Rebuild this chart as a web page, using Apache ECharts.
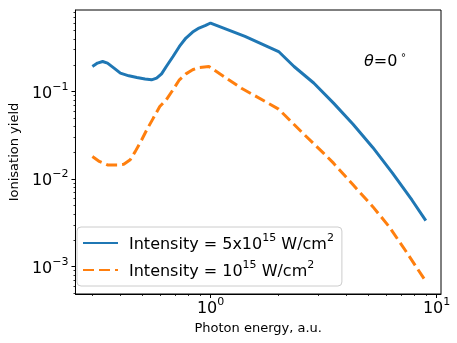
<!DOCTYPE html>
<html>
<head>
<meta charset="utf-8">
<script src="https://cdn.jsdelivr.net/npm/echarts@6/dist/echarts.min.js"></script>
<style>html,body{margin:0;padding:0;background:#fff}#c{width:457px;height:343px}</style>
</head>
<body>
<div id="c"></div>
<script>
// ---- data ----
const energyHigh = [0.30, 0.316, 0.333, 0.35, 0.374, 0.399, 0.435, 0.472, 0.513, 0.548, 0.577, 0.607, 0.637, 0.682, 0.728, 0.778, 0.833, 0.889, 0.951, 1.0, 1.42, 2.0, 2.34, 2.86, 3.5, 4.27, 5.22, 6.37, 7.79, 8.96];
const yieldHigh  = [0.193, 0.211, 0.220, 0.211, 0.185, 0.162, 0.151, 0.1445, 0.1386, 0.136, 0.142, 0.159, 0.193, 0.251, 0.327, 0.408, 0.477, 0.530, 0.568, 0.605, 0.426, 0.286, 0.193, 0.125, 0.0737, 0.0423, 0.0230, 0.0118, 0.00574, 0.00336];
const energyLow  = [0.30, 0.322, 0.35, 0.386, 0.413, 0.441, 0.464, 0.496, 0.522, 0.558, 0.596, 0.637, 0.682, 0.728, 0.778, 0.833, 0.889, 0.983, 1.37, 2.0, 2.12, 2.59, 3.16, 3.5, 4.27, 5.22, 6.17, 7.28, 8.96];
const yieldLow   = [0.0181, 0.0159, 0.0145, 0.0145, 0.0148, 0.0166, 0.0206, 0.0281, 0.0365, 0.0497, 0.0674, 0.0804, 0.1047, 0.136, 0.159, 0.177, 0.188, 0.193, 0.109, 0.063, 0.0542, 0.0325, 0.0198, 0.0152, 0.0086, 0.00485, 0.00286, 0.00153, 0.00068];
const seriesNames = ['high', 'low'];
const legendLabels = {
  high: '{t|Intensity = 5x10}{s|15}{t| W/cm}{s|2}',
  low:  '{t|Intensity = 10}{s|15}{t| W/cm}{s|2}'
};
const xMajorTicks = [1, 10];
const xMinorTicks = [0.3, 0.4, 0.5, 0.6, 0.7, 0.8, 0.9, 2, 3, 4, 5, 6, 7, 8, 9];
const yMajorTicks = [0.001, 0.01, 0.1];
const yMinorTicks = [0.0005, 0.0006, 0.0007, 0.0008, 0.0009, 0.002, 0.003, 0.004, 0.005, 0.006, 0.007, 0.008, 0.009, 0.02, 0.03, 0.04, 0.05, 0.06, 0.07, 0.08, 0.09, 0.2, 0.3, 0.4, 0.5, 0.6, 0.7, 0.8];
const xTitle = 'Photon energy, a.u.';
const yTitle = 'Ionisation yield';
const annotation = '{i|θ}{n|=0}{s|∘}';

const XMIN = 0.2525, XMAX = 10.46, YMIN = 4.88e-4, YMAX = 0.852;
const FONT = 'DejaVu Sans';

function pow10Label(v) {
  const e = Math.round(Math.log10(v));
  return '{b|10}{s|' + (e < 0 ? '\u2212' + (-e) : e) + '}';
}
const tickRich = {
  b: {fontSize: 16, fontFamily: FONT, color: '#000', lineHeight: 20, verticalAlign: 'bottom'},
  s: {fontSize: 11, fontFamily: FONT, color: '#000', lineHeight: 20, verticalAlign: 'top'}
};

function majorAxis(min, max, ticks, extra) {
  return Object.assign({
    type: 'log', logBase: 10, min: min, max: max,
    axisLine: {show: true, onZero: false, lineStyle: {color: '#000', width: 1}},
    axisTick: {show: true, inside: false, length: 4, customValues: ticks, lineStyle: {color: '#000', width: 1}},
    axisLabel: {show: true, customValues: ticks, formatter: pow10Label, rich: tickRich},
    splitLine: {show: false}, minorTick: {show: false}, minorSplitLine: {show: false}
  }, extra);
}
function minorAxis(min, max, ticks, extra) {
  return Object.assign({
    type: 'log', logBase: 10, min: min, max: max,
    axisLine: {show: false, onZero: false},
    axisTick: {show: true, inside: false, length: 2, customValues: ticks, lineStyle: {color: '#000', width: 0.8}},
    axisLabel: {show: false},
    splitLine: {show: false}, minorTick: {show: false}
  }, extra);
}

const chart = echarts.init(document.getElementById('c'), null, {renderer: 'canvas'});
chart.setOption({
  animation: false,
  backgroundColor: '#fff',
  grid: {left: 68, right: 16, top: 10, bottom: 49, show: true, borderColor: '#000', borderWidth: 1, backgroundColor: 'transparent'},
  xAxis: [
    majorAxis(XMIN, XMAX, xMajorTicks, {
      position: 'bottom',
      name: xTitle, nameLocation: 'middle', nameGap: 28,
      nameTextStyle: {fontSize: 13, fontFamily: FONT, color: '#000'},
      axisLabel: {show: true, customValues: xMajorTicks, formatter: pow10Label, rich: tickRich, margin: 3}
    }),
    minorAxis(XMIN, XMAX, xMinorTicks, {position: 'bottom'})
  ],
  yAxis: [
    majorAxis(YMIN, YMAX, yMajorTicks, {
      position: 'left',
      name: yTitle, nameLocation: 'middle', nameGap: 54, nameRotate: 90,
      nameTextStyle: {fontSize: 13, fontFamily: FONT, color: '#000'},
      axisLabel: {show: true, customValues: yMajorTicks, formatter: pow10Label, rich: tickRich, margin: 7}
    }),
    minorAxis(YMIN, YMAX, yMinorTicks, {position: 'left'})
  ],
  legend: {
    left: 77, top: 227, orient: 'vertical',
    data: seriesNames,
    itemWidth: 35, itemHeight: 14, itemGap: 7,
    padding: [6, 8, 6, 5],
    backgroundColor: 'rgba(255,255,255,0.8)',
    borderColor: '#cccccc', borderWidth: 1, borderRadius: 4,
    itemStyle: {opacity: 0},
    formatter: function (name) { return legendLabels[name]; },
    textStyle: {
      color: '#000', fontFamily: FONT, fontSize: 16, padding: [0, 0, 0, 6],
      rich: {
        t: {fontSize: 16, fontFamily: FONT, color: '#000', lineHeight: 20, verticalAlign: 'bottom'},
        s: {fontSize: 11, fontFamily: FONT, color: '#000', lineHeight: 20, verticalAlign: 'top'}
      }
    }
  },
  graphic: [{
    type: 'text', left: 364, top: 50,
    style: {
      text: annotation,
      rich: {
        i: {fontSize: 16, fontFamily: FONT, fontStyle: 'italic', fill: '#000', lineHeight: 20, verticalAlign: 'bottom'},
        n: {fontSize: 16, fontFamily: FONT, fill: '#000', lineHeight: 20, verticalAlign: 'bottom'},
        s: {fontSize: 10, fontFamily: FONT, fill: '#000', lineHeight: 20, verticalAlign: 'top', padding: [0, 0, 0, 3]}
      }
    }
  }],
  series: [
    {
      name: 'high', type: 'line', xAxisIndex: 0, yAxisIndex: 0,
      data: energyHigh.map((x, i) => [x, yieldHigh[i]]),
      showSymbol: false, symbol: 'none', smooth: false,
      lineStyle: {color: '#1f77b4', width: 3}, itemStyle: {color: '#1f77b4'}
    },
    {
      name: 'low', type: 'line', xAxisIndex: 0, yAxisIndex: 0,
      data: energyLow.map((x, i) => [x, yieldLow[i]]),
      showSymbol: false, symbol: 'none', smooth: false,
      lineStyle: {color: '#ff7f0e', width: 3, type: [11, 5]}, itemStyle: {color: '#ff7f0e'}
    }
  ]
});
</script>
</body>
</html>
